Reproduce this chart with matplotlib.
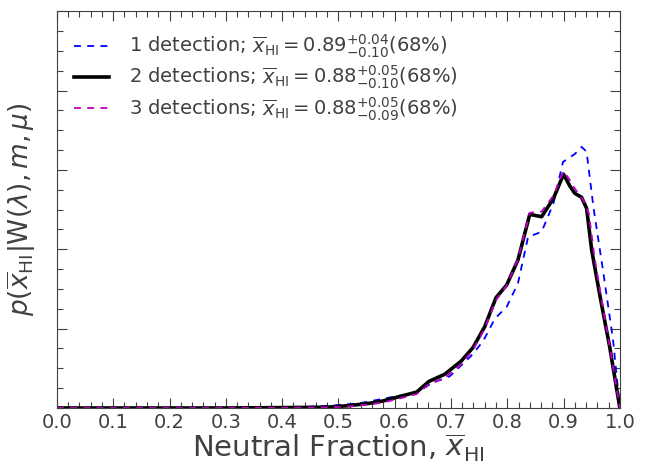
import numpy as np
import matplotlib
matplotlib.use('Agg')
import matplotlib.pyplot as plt
from matplotlib.ticker import MultipleLocator, NullFormatter

# courbes (x = fraction neutre, y = densite)
x_2det = [0.0, 0.1, 0.2, 0.3, 0.4, 0.45, 0.48, 0.52, 0.556, 0.58, 0.609, 0.639, 0.661,
          0.689, 0.718, 0.739, 0.76, 0.78, 0.799, 0.819, 0.84, 0.861, 0.882, 0.90,
          0.911, 0.92, 0.932, 0.941, 0.95, 0.965, 0.982, 1.0]
y_2det = [0.0, 0.0, 0.0, 0.0, 0.01, 0.015, 0.02, 0.06, 0.12, 0.18, 0.29, 0.40, 0.67,
          0.85, 1.18, 1.52, 2.05, 2.78, 3.10, 3.73, 4.88, 4.82, 5.28, 5.89,
          5.60, 5.41, 5.31, 5.03, 3.98, 2.80, 1.54, 0.0]

x_1det = [0.0, 0.1, 0.2, 0.3, 0.4, 0.444, 0.49, 0.538, 0.597, 0.639, 0.665, 0.698,
          0.735, 0.757, 0.778, 0.799, 0.819, 0.837, 0.861, 0.882, 0.899, 0.92,
          0.932, 0.941, 0.953, 0.97, 0.988, 1.0]
y_1det = [0.0, 0.0, 0.0, 0.0, 0.01, 0.03, 0.06, 0.12, 0.28, 0.38, 0.62, 0.80,
          1.30, 1.68, 2.25, 2.55, 3.14, 4.31, 4.44, 5.15, 6.20, 6.40,
          6.58, 6.46, 5.07, 3.48, 1.71, 0.0]

x_3det = [0.0, 0.1, 0.2, 0.3, 0.4, 0.45, 0.48, 0.52, 0.556, 0.58, 0.609, 0.639, 0.661,
          0.689, 0.718, 0.739, 0.76, 0.78, 0.799, 0.819, 0.84, 0.861, 0.882, 0.90,
          0.911, 0.92, 0.935, 0.945, 0.955, 0.968, 0.985, 1.0]
y_3det = [0.0, 0.0, 0.0, 0.0, 0.005, 0.01, 0.015, 0.04, 0.09, 0.14, 0.24, 0.35, 0.60,
          0.76, 1.10, 1.46, 2.00, 2.72, 3.08, 3.75, 4.92, 4.95, 5.35, 5.97,
          5.75, 5.53, 5.24, 4.90, 3.80, 2.70, 1.30, 0.0]

labels = [r'1 detection; $\overline{x}_{\rm HI}=0.89^{+0.04}_{-0.10}(68\%)$',
          r'2 detections; $\overline{x}_{\rm HI}=0.88^{+0.05}_{-0.10}(68\%)$',
          r'3 detections; $\overline{x}_{\rm HI}=0.88^{+0.05}_{-0.09}(68\%)$']

gris = '0.25'
plt.rcParams['text.color'] = gris
plt.rcParams['axes.labelcolor'] = gris
plt.rcParams['xtick.color'] = gris
plt.rcParams['ytick.color'] = gris
plt.rcParams['axes.edgecolor'] = gris
plt.rcParams['lines.scale_dashes'] = False

fig = plt.figure(figsize=(6.47, 4.66), dpi=100)
ax = fig.add_axes([0.088, 0.1245, 0.870, 0.8515])

tirets = (0, (5, 4.5))
ax.plot(x_1det, y_1det, ls=tirets, color='blue', lw=1.3, label=labels[0])
ax.plot(x_2det, y_2det, ls='-', color='black', lw=2.6, label=labels[1])
ax.plot(x_3det, y_3det, ls=tirets, color='m', lw=1.3, label=labels[2])

ax.set_xlim(0, 1)
ax.set_ylim(0, 10)
ax.xaxis.set_major_locator(MultipleLocator(0.1))
ax.xaxis.set_minor_locator(MultipleLocator(0.02))
ax.yaxis.set_major_locator(MultipleLocator(2))
ax.yaxis.set_minor_locator(MultipleLocator(0.5))
ax.yaxis.set_major_formatter(NullFormatter())
ax.tick_params(which='both', direction='in', top=True, right=True, labelsize=14)
ax.tick_params(which='major', length=7, width=0.8)
ax.tick_params(which='minor', length=4, width=0.8)

ax.set_xlabel(r'Neutral Fraction, $\overline{x}_{\rm HI}$', fontsize=21, labelpad=0)
ax.set_ylabel(r'$p(\overline{x}_{\rm HI}|{\rm W}(\lambda), m, \mu)$', fontsize=19, labelpad=10)

ax.legend(loc='upper left', frameon=False, fontsize=14, handlelength=1.8,
          handletextpad=1.0, bbox_to_anchor=(0.0, 0.99), labelspacing=0.2)

fig.savefig('out.png', dpi=100)
